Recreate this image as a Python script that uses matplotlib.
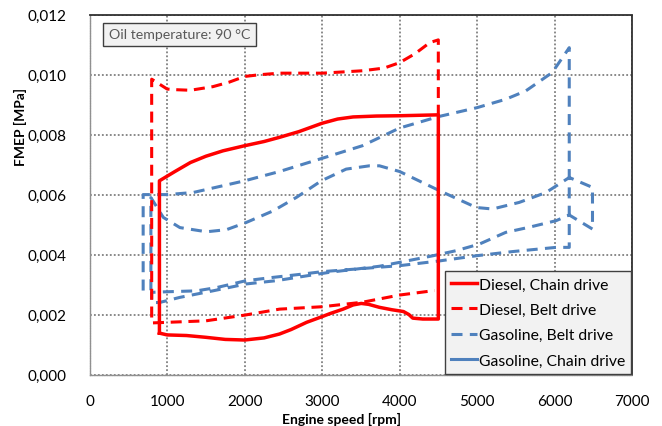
import matplotlib
matplotlib.use("Agg")
import matplotlib.pyplot as plt

plt.rcParams['font.family'] = ['Lato', 'DejaVu Sans']

# ---- data ----
diesel_chain_rpm = [900, 900, 1100, 1300, 1500, 1720, 2000, 2250, 2450, 2700, 3000,
                    3200, 3400, 3700, 4000, 4500,
                    4500, 4300, 4170, 4120, 4050, 3900, 3740, 3600, 3505, 3400,
                    3270, 3100, 3000, 2800, 2600, 2450, 2250, 2000, 1750, 1500,
                    1250, 1000, 900]
diesel_chain_fmep = [0.00138, 0.00646, 0.00677, 0.00707, 0.00728, 0.00746, 0.00763,
                     0.00777, 0.00791, 0.00810, 0.00838, 0.00852, 0.00859, 0.00862,
                     0.00863, 0.00866,
                     0.00185, 0.00185, 0.00188, 0.00200, 0.00210, 0.00216, 0.00224,
                     0.00234, 0.00237, 0.00232, 0.00218, 0.00203, 0.00193, 0.00174,
                     0.00150, 0.00135, 0.00122, 0.00115, 0.00117, 0.00124, 0.00130,
                     0.00132, 0.00138]

diesel_belt_rpm = [4500, 4500, 4390, 4200, 4000, 3800, 3520, 3000, 2450, 2200, 2000,
                   1800, 1590, 1300, 1100, 1000, 800,
                   800, 1000, 1500, 2000, 2450, 3000, 3520, 4000, 4450]
diesel_belt_fmep = [0.00863, 0.01116, 0.01107, 0.01070, 0.01040, 0.01022, 0.01013,
                    0.01005, 0.01005, 0.01000, 0.00994, 0.00975, 0.00960, 0.00948,
                    0.00950, 0.00952, 0.00985,
                    0.00172, 0.00174, 0.00179, 0.00198, 0.00218, 0.00226, 0.00241,
                    0.00265, 0.00280]

gasoline_belt_rpm = [690, 690, 1000, 1335, 2000, 2450, 3000, 3520, 4000, 4500,
                     5000, 5370, 5630, 5970, 6190, 6190, 6020, 5460, 4990, 4520,
                     4000, 3000, 2750, 2370, 2020, 1640, 1380, 1000, 800, 800,
                     900, 1160, 1590, 2020, 2410, 2800, 3100, 3740, 4000, 4430,
                     4730, 5030, 5370, 5670, 6020, 6190, 6490, 6490, 6190, 5890,
                     5545, 5200, 4990, 4515, 4000, 3740, 3610, 3310, 2990, 2670,
                     2370, 2020, 1765, 1507, 1164, 950, 790, 790]
gasoline_belt_fmep = [0.00280, 0.00600, 0.00600, 0.00607, 0.00646, 0.00677, 0.00721,
                      0.00763, 0.00822, 0.00860, 0.00890, 0.00918, 0.00946, 0.01007,
                      0.01090, 0.00424, 0.00424, 0.00410, 0.00396, 0.00379, 0.00363,
                      0.00343, 0.00335, 0.00324, 0.00313, 0.00290, 0.00279, 0.00276,
                      0.00274, 0.00240, 0.00240, 0.00257, 0.00279, 0.00302, 0.00313,
                      0.00329, 0.00341, 0.00361, 0.00374, 0.00396, 0.00413, 0.00435,
                      0.00474, 0.00491, 0.00513, 0.00532, 0.00485, 0.00624, 0.00657,
                      0.00607, 0.00574, 0.00552, 0.00557, 0.00613, 0.00677, 0.00696,
                      0.00696, 0.00685, 0.00646, 0.00591, 0.00546, 0.00507, 0.00483,
                      0.00476, 0.00490, 0.00524, 0.00590, 0.00274]

gasoline_chain_rpm = []
gasoline_chain_fmep = []

legend_labels = ["Diesel, Chain drive", "Diesel, Belt drive",
                 "Gasoline, Belt drive", "Gasoline, Chain drive"]
x_ticks = [0, 1000, 2000, 3000, 4000, 5000, 6000, 7000]
y_ticks = [0.000, 0.002, 0.004, 0.006, 0.008, 0.010, 0.012]
annotation = "Oil temperature: 90 °C"

RED = "#FF0000"
BLUE = "#4F81BD"
LW = 2.2

fig = plt.figure(figsize=(6.62, 4.27), dpi=100)
ax = fig.add_axes([89.7 / 662, 1 - 375.5 / 427, (632 - 89.7) / 662, (375.5 - 15.7) / 427])

gb, = ax.plot(gasoline_belt_rpm, gasoline_belt_fmep, color=BLUE, lw=LW,
              dashes=(3.6, 2.4), solid_joinstyle='round', dash_capstyle='butt')
gc, = ax.plot(gasoline_chain_rpm, gasoline_chain_fmep, color=BLUE, lw=LW)
db, = ax.plot(diesel_belt_rpm, diesel_belt_fmep, color=RED, lw=LW,
              dashes=(3.6, 2.2), dash_capstyle='butt')
dc, = ax.plot(diesel_chain_rpm, diesel_chain_fmep, color=RED, lw=LW + 0.3,
              solid_joinstyle='round')

ax.set_xlim(0, 7000)
ax.set_ylim(0, 0.012)
ax.set_xticks(x_ticks)
ax.set_yticks(y_ticks)
ax.set_xticklabels([str(v) for v in x_ticks])
ax.set_yticklabels([f"{v:.3f}".replace(".", ",") for v in y_ticks])
ax.tick_params(length=0, labelsize=11, colors="#000000")
ax.tick_params(axis='y', pad=17)
ax.tick_params(axis='x', pad=14)

ax.grid(True, color="#808080", lw=1.3, linestyle=(0, (1, 1.2)))
ax.set_axisbelow(True)
for s in ['left', 'bottom']:
    ax.spines[s].set_color("#909090")
    ax.spines[s].set_linestyle((0, (1, 0.8)))
    ax.spines[s].set_linewidth(1.0)
for s in ['top', 'right']:
    ax.spines[s].set_color("#303030")
    ax.spines[s].set_linestyle((0, (1, 1)))
    ax.spines[s].set_linewidth(1.3)

fig.text(341 / 662, 1 - 419 / 427, "Engine speed [rpm]", ha='center', va='center',
         fontsize=10, fontweight='bold')
fig.text(20 / 662, 1 - 127 / 427, "FMEP [MPa]", ha='center', va='center',
         rotation=90, fontsize=10, fontweight='bold')

ax.text(0.035, 0.945, annotation, transform=ax.transAxes, fontsize=10.2,
        color="#595959", va='center', ha='left',
        bbox=dict(boxstyle='square,pad=0.4', facecolor="#F2F2F2",
                  edgecolor="#404040", lw=1.0))

leg = ax.legend([dc, db, gb, gc], legend_labels, loc='lower right',
                bbox_to_anchor=(1.0, 0.0), borderaxespad=0.05, fontsize=11.3,
                frameon=True, fancybox=False, handlelength=1.65, handletextpad=0.12,
                labelspacing=0.72, borderpad=0.4)
leg.get_frame().set_facecolor("#F2F2F2")
leg.get_frame().set_edgecolor("#404040")
leg.get_frame().set_linewidth(1.0)
leg.get_frame().set_alpha(1.0)

fig.savefig("out.png", dpi=100)
